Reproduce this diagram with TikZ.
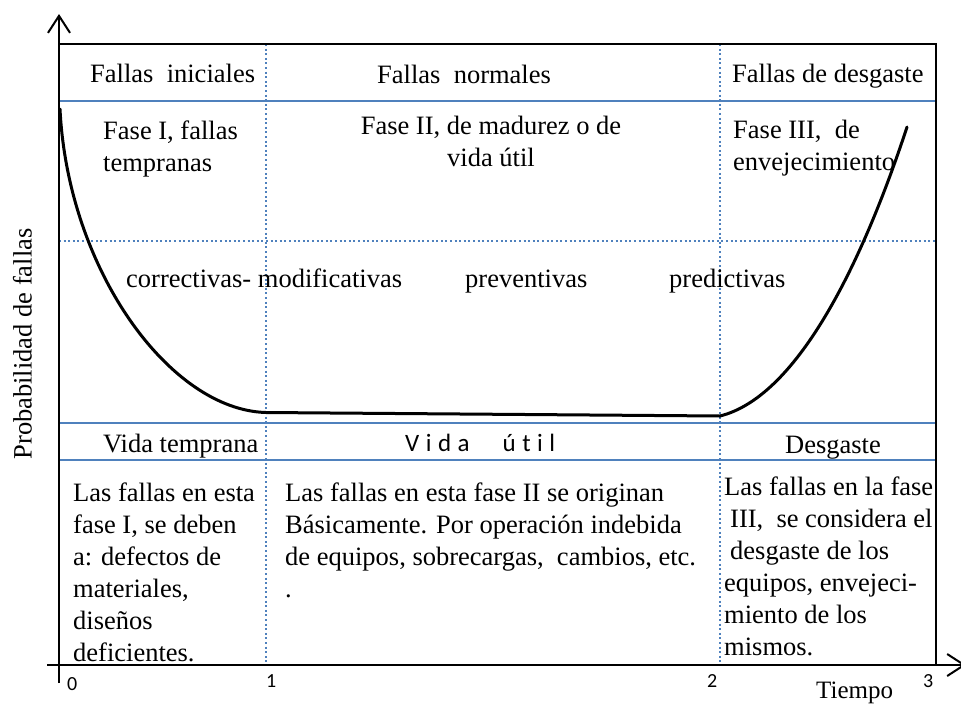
\documentclass[tikz,border=0pt]{standalone}
\usepackage{fontspec}
\setmainfont{Liberation Serif}
\newfontfamily\calfont{Carlito}
\newfontfamily\calspaced{Carlito}[LetterSpace=26,Ligatures=NoCommon]
\usetikzlibrary{arrows.meta}
\definecolor{wordblue}{RGB}{79,129,189}
\begin{document}
\begin{tikzpicture}[x=1pt,y=-1pt,
  txt/.style={font=\fontsize{26.5}{32}\selectfont, inner sep=0pt, anchor=base west, align=left},
  ticklbl/.style={font=\calfont\fontsize{20}{24}\selectfont, inner sep=0pt, anchor=base west},
  bluesolid/.style={draw=wordblue, line width=2pt},
  bluedot/.style={draw=wordblue, line width=2pt, dash pattern=on 2pt off 2.6pt},
  framestyle/.style={draw=black, line width=2pt},
  axisstyle/.style={draw=black, line width=2pt, -{Straight Barb[length=17pt,width=22pt]}},
  curvestyle/.style={draw=black, line width=3pt, line cap=round}]
\useasboundingbox (0,0) rectangle (961,704);
% named corner coordinates
\coordinate (yb) at (59,683);
\coordinate (yt) at (59,14);
\coordinate (xl) at (47,665);
\coordinate (xr) at (966,665);
\coordinate (ftl) at (59,44);
\coordinate (ftr) at (936,44);
\coordinate (fbr) at (936,665);
% dotted blue guides
\draw[bluedot] (266,44) -- (266,665);
\draw[bluedot] (720,44) -- (720,665);
\draw[bluedot] (59,241) -- (936,241);
% solid blue lines
\draw[bluesolid] (59,101) -- (936,101);
\draw[bluesolid] (59,423) -- (936,423);
\draw[bluesolid] (59,460) -- (936,460);
% frame
\draw[framestyle] (ftl) -- (ftr) -- (fbr);
% axes
\draw[axisstyle] (yb) -- (yt);
\draw[axisstyle] (xl) -- (xr);
% bathtub curve
\draw[curvestyle] (60,109) .. controls (68,270) and (170,410) .. (266,412.5)
  -- (720,416) .. controls (800,396) and (865,255) .. (907,127);
% header texts (multi-line nodes: anchored at the last line's baseline)
\node[txt] (fi) at (90,82) {Fallas\ \ iniciales};
\node[txt] (fn) at (377,83) {Fallas\ \ normales};
\node[txt] (fd) at (732,82) {Fallas de desgaste};
\node[txt] (f1) at (103,171) {Fase I, fallas\\tempranas};
\node[txt, align=center, anchor=base] (f2) at (491,166) {Fase II, de madurez o de\\vida útil};
\node[txt] (f3) at (733,170) {Fase III,\ \ de\\envejecimiento};
% maintenance types
\node[txt] (cm) at (126,287) {correctivas- modificativas};
\node[txt] (pv) at (465,287) {preventivas};
\node[txt] (pd) at (669,287) {predictivas};
% life stages
\node[txt] (vt) at (103,452) {Vida temprana};
\node[txt, font=\calspaced\fontsize{25}{30}\selectfont] (vu) at (405,451) {Vida\hspace{33pt}útil};
\node[txt] (dg) at (785,453) {Desgaste};
% descriptions
\node[txt] (b1) at (73,661) {Las fallas en esta\\fase I, se deben\\a: defectos de\\materiales,\\diseños\\deficientes.};
\node[txt] (b2) at (285,597) {Las fallas en esta fase II se originan\\Básicamente. Por operación indebida\\de equipos, sobrecargas,\ \ cambios, etc.\\.};
\node[txt] (b3) at (724,655) {Las fallas en la fase\\\hspace*{6pt}III,\ \ se considera el\\\hspace*{6pt}desgaste de los\\equipos, envejeci-\\miento de los\\mismos.};
% axis labels
\node[ticklbl] (t0) at (67,690) {0};
\node[ticklbl] (t1) at (266,687) {1};
\node[ticklbl] (t2) at (707,687) {2};
\node[ticklbl] (t3) at (923,687) {3};
\node[txt, font=\fontsize{25}{30}\selectfont] (tp) at (816,698) {Tiempo};
\node[txt, rotate=90, anchor=base] (yl) at (31.5,344) {Probabilidad de fallas};
\end{tikzpicture}
\end{document}
